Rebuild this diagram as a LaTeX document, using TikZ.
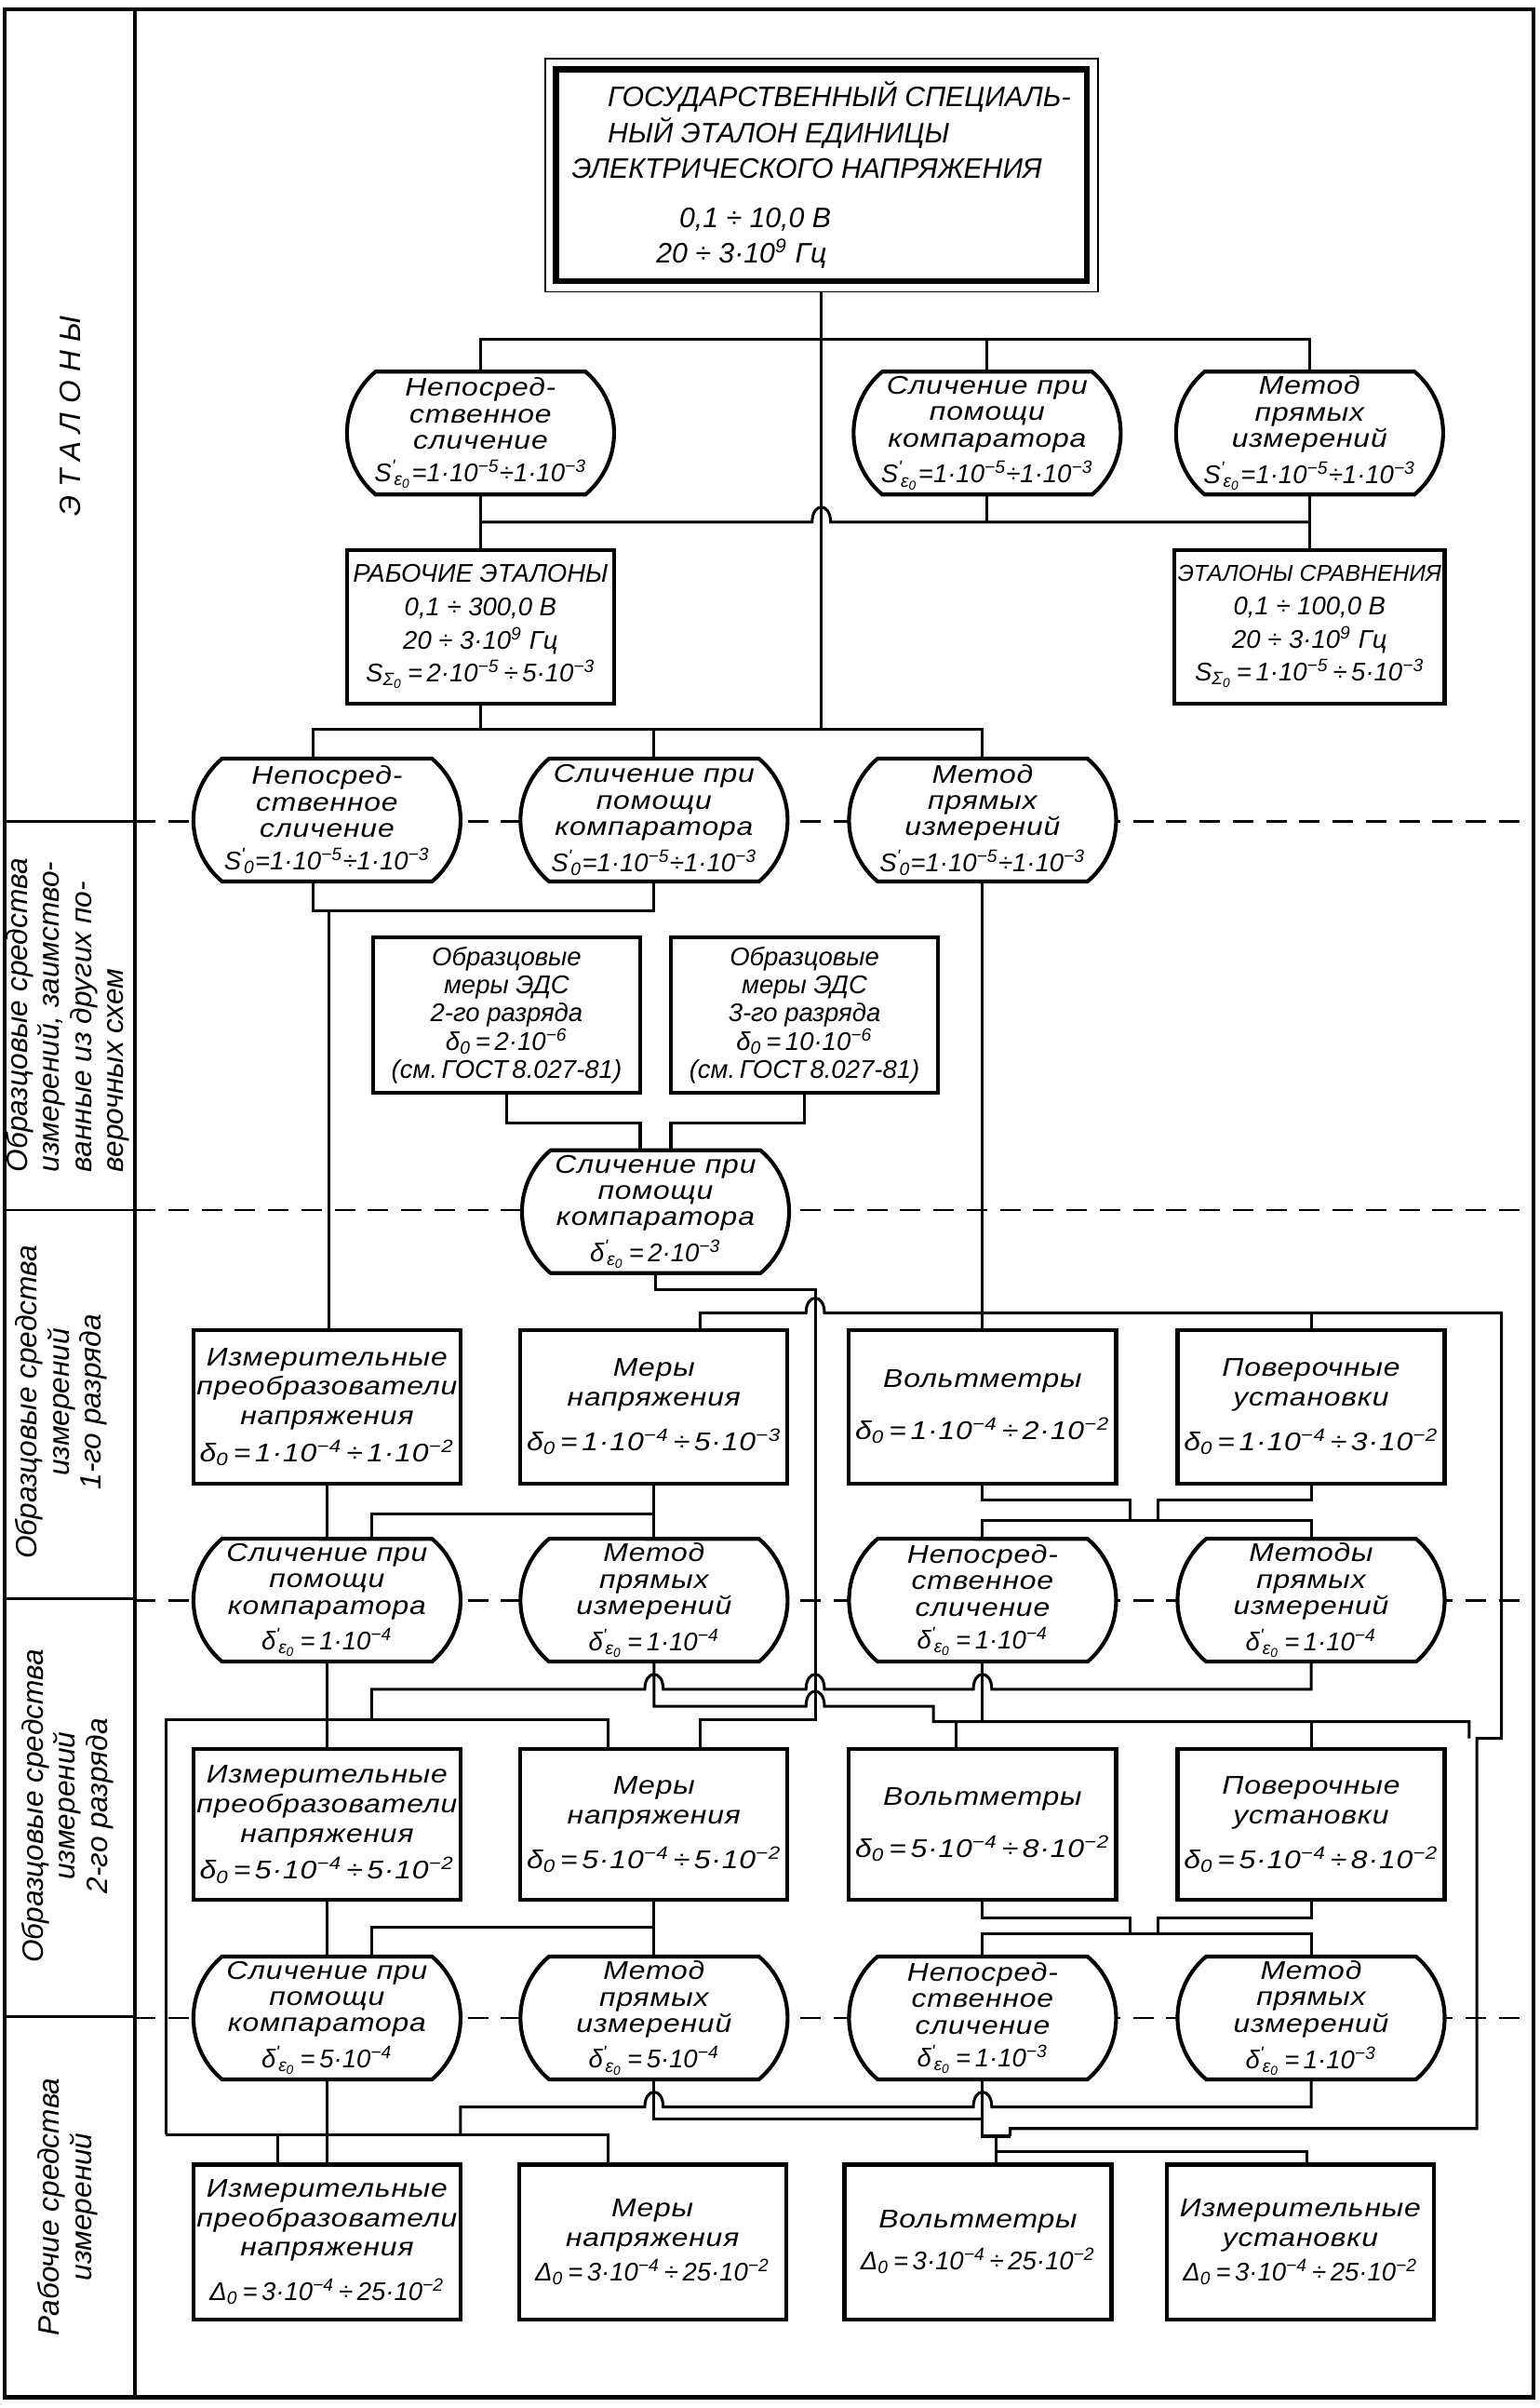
\documentclass[tikz,border=0pt]{standalone}
\usepackage{fontspec}
\setmainfont{Liberation Sans}
\newfontfamily\gost{Liberation Sans}[FakeStretch=1.16, LetterSpace=3]
\usetikzlibrary{shapes.misc,backgrounds}
\newcommand{\pu}{0.6pt}
\newcommand{\sps}[1]{\textsuperscript{#1}}
\newcommand{\sbs}[1]{\textsubscript{#1}}
\newcommand{\prm}[2]{#1\textsuperscript{\textquotesingle}\kern-0.8pt\textsubscript{#2}}
\newcommand{\ez}{ε\textsubscript{0}}
\newcommand{\nf}{\gost\itshape\fontsize{10}{10.3}\selectfont}
\newcommand{\bxf}{\gost\itshape\fontsize{10}{11.5}\selectfont}
\newcommand{\pf}{\normalfont\itshape\fontsize{10}{11}\selectfont}
\newcommand{\ff}{\normalfont\itshape\fontsize{10}{11}\selectfont}
\tikzset{
 bx/.style={draw, line width=1.5pt, fill=white, align=center, inner sep=1pt, minimum width=174*\pu, minimum height=100*\pu, font=\bxf},
 px/.style={draw, line width=1.5pt, fill=white, align=center, inner sep=1pt, minimum width=174*\pu, minimum height=100*\pu, font=\pf},
 ov/.style={rounded rectangle, rounded rectangle arc length=100, draw, line width=1.5pt, fill=white, align=center, inner sep=0pt, minimum width=174*\pu, minimum height=80*\pu, font=\nf},
 cn/.style={line width=1.1pt},
 hopover/.style={to path={.. controls +(0,-13) and +(0,-13) .. (\tikztotarget)}},
 sep/.style={line width=1pt, dash pattern=on 8pt off 5pt},
 lbl/.style={rotate=90, align=center, font=\itshape\fontsize{11.5}{12.5}\selectfont},
}
\begin{document}
\begin{tikzpicture}[x=0.6pt,y=-0.6pt]
\useasboundingbox (0,0) rectangle (1003,1568);
% frame
\draw[line width=1.6pt] (3,6) rectangle (999,1561);
\draw[line width=1.6pt] (88,6) -- (88,1561);
\foreach \yy in {535,788,1041,1313} \draw[line width=1pt] (3,\yy) -- (88,\yy);
% left labels
\node[lbl] (L1) at (46,271) {\addfontfeatures{LetterSpace=30}ЭТАЛОНЫ};
\node[lbl, align=left] (L2) at (44,661) {Образцовые средства\\измерений, заимство-\\ванные из других по-\\верочных схем};
\node[lbl] (L3) at (40,913) {Образцовые средства\\измерений\\1-го разряда};
\node[lbl] (L4) at (44,1176) {Образцовые средства\\измерений\\2-го разряда};
\node[lbl] (L5) at (44,1437) {Рабочие средства\\измерений};
% top standard
\node[draw, line width=0.7pt, minimum width=360*\pu, minimum height=152*\pu] (Tout) at (535,114) {};
\node[draw, line width=2.4pt, minimum width=346*\pu, minimum height=138*\pu, align=left, font=\itshape\fontsize{11}{14}\selectfont] (T) at (535,114)
 {\hspace*{14pt}ГОСУДАРСТВЕННЫЙ СПЕЦИАЛЬ-\\\hspace*{14pt}НЫЙ ЭТАЛОН ЕДИНИЦЫ\\ЭЛЕКТРИЧЕСКОГО НАПРЯЖЕНИЯ\\[5pt]\hspace*{42pt}0,1 ÷ 10,0 В\\\hspace*{33pt}20 ÷ 3·10\sps{9} Гц};
% row 1
\node[ov] (O1a) at (313,282) {Непосред-\\ственное\\сличение\\[2.5pt]{\ff\prm{S}{\ez}=1·10\sps{−5}÷1·10\sps{−3}}};
\node[ov] (O1b) at (643,282) {Сличение при\\помощи\\компаратора\\[2.5pt]{\ff\prm{S}{\ez}=1·10\sps{−5}÷1·10\sps{−3}}};
\node[ov] (O1c) at (853,282) {Метод\\прямых\\измерений\\[2.5pt]{\ff\prm{S}{\ez}=1·10\sps{−5}÷1·10\sps{−3}}};
\node[px] (RE) at (313,408) {РАБОЧИЕ ЭТАЛОНЫ\\[2pt]0,1 ÷ 300,0 В\\[2pt]20 ÷ 3·10\sps{9} Гц\\[2pt]S\sbs{Σ\sbs{0}}\,=\,2·10\sps{−5}\,÷\,5·10\sps{−3}};
\node[px, minimum width=176*\pu] (ES) at (853,408) {{\fontsize{9}{11}\selectfont ЭТАЛОНЫ СРАВНЕНИЯ}\\[2pt]0,1 ÷ 100,0 В\\[2pt]20 ÷ 3·10\sps{9} Гц\\[2pt]S\sbs{Σ\sbs{0}}\,=\,1·10\sps{−5}\,÷\,5·10\sps{−3}};
% row 2
\node[ov] (O2a) at (213,534) {Непосред-\\ственное\\сличение\\[2.5pt]{\ff\prm{S}{0}=1·10\sps{−5}÷1·10\sps{−3}}};
\node[ov] (O2b) at (426,534) {Сличение при\\помощи\\компаратора\\[2.5pt]{\ff\prm{S}{0}=1·10\sps{−5}÷1·10\sps{−3}}};
\node[ov] (O2c) at (640,534) {Метод\\прямых\\измерений\\[2.5pt]{\ff\prm{S}{0}=1·10\sps{−5}÷1·10\sps{−3}}};
\node[px, minimum height=101*\pu] (ED2) at (330,661) {Образцовые\\меры ЭДС\\2-го разряда\\δ\sbs{0}\,=\,2·10\sps{−6}\\(см.\,ГОСТ\,8.027-81)};
\node[px, minimum height=101*\pu] (ED3) at (524,661) {Образцовые\\меры ЭДС\\3-го разряда\\δ\sbs{0}\,=\,10·10\sps{−6}\\(см.\,ГОСТ\,8.027-81)};
\node[ov] (SK) at (427,789) {Сличение при\\помощи\\компаратора\\[2.5pt]{\ff\prm{δ}{\ez}\,=\,2·10\sps{−3}}};
% row 3
\node[bx] (B1a) at (213,916) {Измерительные\\преобразователи\\напряжения\\[3pt]δ\sbs{0}\,=\,1·10\sps{−4}\,÷\,1·10\sps{−2}};
\node[bx] (B1b) at (426,916) {Меры\\напряжения\\[6pt]δ\sbs{0}\,=\,1·10\sps{−4}\,÷\,5·10\sps{−3}};
\node[bx] (B1c) at (640,916) {Вольтметры\\[9pt]δ\sbs{0}\,=\,1·10\sps{−4}\,÷\,2·10\sps{−2}};
\node[bx] (B1d) at (854,916) {Поверочные\\установки\\[6pt]δ\sbs{0}\,=\,1·10\sps{−4}\,÷\,3·10\sps{−2}};
% row 4
\node[ov] (O4a) at (213,1042) {Сличение при\\помощи\\компаратора\\[2.5pt]{\ff\prm{δ}{\ez}\,=\,1·10\sps{−4}}};
\node[ov] (O4b) at (426,1042) {Метод\\прямых\\измерений\\[2.5pt]{\ff\prm{δ}{\ez}\,=\,1·10\sps{−4}}};
\node[ov] (O4c) at (640,1042) {Непосред-\\ственное\\сличение\\[2.5pt]{\ff\prm{δ}{\ez}\,=\,1·10\sps{−4}}};
\node[ov] (O4d) at (854,1042) {Методы\\прямых\\измерений\\[2.5pt]{\ff\prm{δ}{\ez}\,=\,1·10\sps{−4}}};
% row 5
\node[bx, minimum height=98*\pu] (B2a) at (213,1188) {Измерительные\\преобразователи\\напряжения\\[3pt]δ\sbs{0}\,=\,5·10\sps{−4}\,÷\,5·10\sps{−2}};
\node[bx, minimum height=98*\pu] (B2b) at (426,1188) {Меры\\напряжения\\[6pt]δ\sbs{0}\,=\,5·10\sps{−4}\,÷\,5·10\sps{−2}};
\node[bx, minimum height=98*\pu] (B2c) at (640,1188) {Вольтметры\\[9pt]δ\sbs{0}\,=\,5·10\sps{−4}\,÷\,8·10\sps{−2}};
\node[bx, minimum height=98*\pu] (B2d) at (854,1188) {Поверочные\\установки\\[6pt]δ\sbs{0}\,=\,5·10\sps{−4}\,÷\,8·10\sps{−2}};
% row 6
\node[ov] (O6a) at (213,1314) {Сличение при\\помощи\\компаратора\\[2.5pt]{\ff\prm{δ}{\ez}\,=\,5·10\sps{−4}}};
\node[ov] (O6b) at (426,1314) {Метод\\прямых\\измерений\\[2.5pt]{\ff\prm{δ}{\ez}\,=\,5·10\sps{−4}}};
\node[ov] (O6c) at (640,1314) {Непосред-\\ственное\\сличение\\[2.5pt]{\ff\prm{δ}{\ez}\,=\,1·10\sps{−3}}};
\node[ov] (O6d) at (854,1314) {Метод\\прямых\\измерений\\[2.5pt]{\ff\prm{δ}{\ez}\,=\,1·10\sps{−3}}};
% row 7
\node[bx, minimum height=101*\pu] (B3a) at (213,1460) {Измерительные\\преобразователи\\напряжения\\[6pt]{\ff Δ\sbs{0}\,=\,3·10\sps{−4}\,÷\,25·10\sps{−2}}};
\node[bx, minimum height=101*\pu] (B3b) at (425,1460) {Меры\\напряжения\\[2pt]{\ff Δ\sbs{0}\,=\,3·10\sps{−4}\,÷\,25·10\sps{−2}}};
\node[bx, minimum height=101*\pu] (B3c) at (637,1460) {Вольтметры\\[5pt]{\ff Δ\sbs{0}\,=\,3·10\sps{−4}\,÷\,25·10\sps{−2}}};
\node[bx, minimum height=101*\pu] (B3d) at (847,1460) {Измерительные\\установки\\[2pt]{\ff Δ\sbs{0}\,=\,3·10\sps{−4}\,÷\,25·10\sps{−2}}};

\begin{pgfonlayer}{background}
\fill[white] (0,0) rectangle (1003,1568);
% section separators
\foreach \yy in {535,788,1042,1314} \draw[sep] (88,\yy) -- (999,\yy);
% top
\draw[cn] (Tout.south) -- (535,475);
\draw[cn] (O1a.north) -- (313,221) -- (853,221) -- (O1c.north);
\draw[cn] (O1b.north) -- (643,221);
\draw[cn] (O1a.south) -- (RE.north);
\draw[cn] (313,340) -- (529,340) to[hopover] (541,340) -- (853,340);
\draw[cn] (O1b.south) -- (643,340);
\draw[cn] (O1c.south) -- (ES.north);
\draw[cn] (RE.south) -- (313,475);
\draw[cn] (204,494) -- (204,475) -- (640,475) -- (O2c.north);
\draw[cn] (O2b.north) -- (426,475);
% row 2 down
\draw[cn] (204,574) -- (204,593) -- (426,593) -- (O2b.south);
\draw[cn] (214,593) -- (214,866);
\draw[cn] (ED2.south) -- (330,731) -- (417,731) -- (417,749);
\draw[cn] (ED3.south) -- (524,731) -- (437,731) -- (437,749);
\draw[cn] (SK.south) -- (427,840) -- (531,840) -- (531,1120) -- (456,1120) -- (456,1139);
\draw[cn] (O2c.south) -- (B1c.north);
\draw[cn] (456,866) -- (456,855) -- (525,855) to[hopover] (537,855) -- (978,855) -- (978,1132) -- (962,1132) -- (962,1386) -- (658,1386) -- (658,1391);
\draw[cn] (B1d.north) -- (854,855);
% below row 3
\draw[cn] (B1a.south) -- (O4a.north);
\draw[cn] (B1b.south) -- (O4b.north);
\draw[cn] (426,986) -- (242,986) -- (242,1002);
\draw[cn] (B1c.south) -- (640,977) -- (736,977) -- (736,990);
\draw[cn] (B1d.south) -- (854,977) -- (754,977) -- (754,990);
\draw[cn] (O4c.north) -- (640,990) -- (854,990) -- (O4d.north);
% below row 4
\draw[cn] (O4a.south) -- (B2a.north);
\draw[cn] (O4d.south) -- (854,1100) -- (646,1100) to[hopover] (634,1100) -- (537,1100) to[hopover] (525,1100) -- (432,1100) to[hopover] (420,1100) -- (242,1100) -- (242,1120);
\draw[cn] (108,1390) -- (108,1120) -- (396,1120) -- (396,1139);
\draw[cn] (O4b.south) -- (426,1111) -- (525,1111) to[hopover] (537,1111) -- (608,1111) -- (608,1121) -- (957,1121) -- (957,1132);
\draw[cn] (O4c.south) -- (640,1121);
\draw[cn] (623,1121) -- (623,1139);
\draw[cn] (854,1121) -- (B2d.north);
% below row 5
\draw[cn] (B2a.south) -- (O6a.north);
\draw[cn] (B2b.south) -- (O6b.north);
\draw[cn] (426,1255) -- (242,1255) -- (242,1275);
\draw[cn] (B2c.south) -- (640,1249) -- (736,1249) -- (736,1259);
\draw[cn] (B2d.south) -- (854,1249) -- (754,1249) -- (754,1259);
\draw[cn] (O6c.north) -- (640,1259) -- (854,1259) -- (O6d.north);
% below row 6
\draw[cn] (O6a.south) -- (B3a.north);
\draw[cn] (O6d.south) -- (854,1372) -- (646,1372) to[hopover] (634,1372) -- (432,1372) to[hopover] (420,1372) -- (300,1372) -- (300,1390);
\draw[cn] (108,1390) -- (396,1390) -- (396,1410);
\draw[cn] (181,1390) -- (181,1410);
\draw[cn] (O6b.south) -- (426,1380) -- (640,1380);
\draw[cn] (O6c.south) -- (640,1391) -- (658,1391);
\draw[cn] (649,1391) -- (649,1410);
\draw[cn] (649,1401) -- (851,1401) -- (851,1410);
\end{pgfonlayer}
\end{tikzpicture}
\end{document}
